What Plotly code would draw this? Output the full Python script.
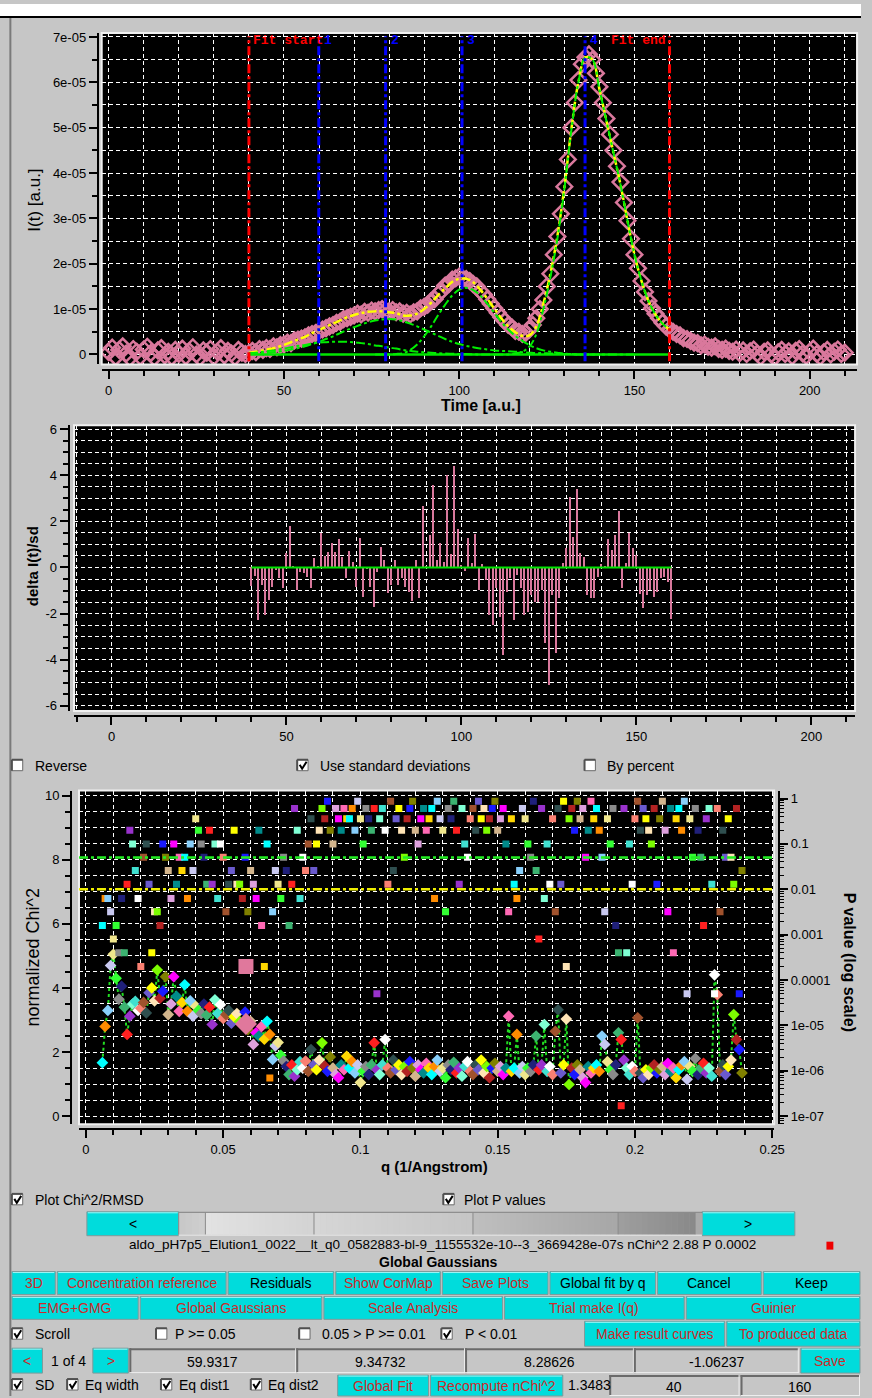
import math
import plotly.graph_objects as go

W, H = 872, 1398
BG = '#c6c6c6'
CYAN = '#00dcdc'
RED_TXT = '#cc2a2a'
PINK = '#d9789c'
SEL = '#e0789c'
FONT = 'Liberation Sans, Arial, DejaVu Sans, sans-serif'
MONO = 'Liberation Mono, DejaVu Sans Mono, monospace'
GRID_DASH = '4px,3px'

# ---------------- data ----------------
# elution profile I(t), units of 1e-5, frames 0..210
intensity_e5 = [
    0.05, 0.15, -0.06, 0.10, 0.18, 0.02, -0.08, 0.12, 0.06, -0.05,
    0.11, 0.17, 0.03, -0.07, 0.09, 0.14, -0.02, 0.06, -0.06, 0.10,
    0.01, 0.13, -0.04, 0.07, 0.16, 0.00, -0.07, 0.09, 0.04, 0.12,
    -0.05, 0.06, 0.14, -0.02, 0.08, 0.02, -0.06, 0.10, 0.04, 0.01,
    0.03, 0.08, 0.05, 0.12, 0.10, 0.14, 0.12, 0.18, 0.16, 0.21,
    0.22, 0.26, 0.25, 0.31, 0.33, 0.35, 0.38, 0.42, 0.45, 0.47,
    0.52, 0.55, 0.58, 0.62, 0.65, 0.70, 0.72, 0.78, 0.80, 0.83,
    0.86, 0.90, 0.88, 0.94, 0.92, 0.97, 0.95, 0.98, 1.00, 0.97,
    0.95, 0.98, 0.93, 0.95, 0.90, 0.92, 0.88, 0.93, 0.95, 1.02,
    1.05, 1.10, 1.18, 1.22, 1.33, 1.40, 1.52, 1.55, 1.65, 1.68,
    1.72, 1.68, 1.66, 1.62, 1.55, 1.50, 1.40, 1.32, 1.22, 1.12,
    1.02, 0.92, 0.82, 0.74, 0.65, 0.60, 0.52, 0.50,
    0.45, 0.48, 0.55, 0.65, 0.80, 1.00, 1.20, 1.50, 1.78, 2.20,
    2.60, 3.10, 3.70, 4.30, 5.00, 5.55, 6.05, 6.40, 6.55, 6.62,
    6.50, 6.20, 5.90, 5.55, 5.20, 4.85, 4.50, 4.15, 3.80, 3.35,
    2.95, 2.55, 2.20, 1.90, 1.62, 1.38, 1.18, 1.02, 0.90, 0.80,
    0.70, 0.62, 0.55,
    0.50, 0.45, 0.42, 0.36, 0.34, 0.30, 0.26, 0.25, 0.20, 0.22,
    0.17, 0.15, 0.18, 0.12, 0.10, 0.13, 0.08, 0.06, 0.11, 0.03,
    0.09, 0.01, 0.07, 0.11, 0.02, -0.05, 0.06, 0.09, 0.00, -0.06,
    0.05, 0.10, 0.01, 0.07, -0.04, 0.08, 0.12, 0.02, -0.03, 0.06,
    0.13, 0.01, -0.05, 0.05, 0.10, 0.00, 0.06, 0.11, 0.01, 0.04,
]
fit_range = [40, 160]
peak_centers = [59.93, 79.0, 100.8, 135.9]
peak_names = ['1', '2', '3', '4']

g1_frames = list(range(40, 112, 2))
g1_e5 = [0.03, 0.04, 0.06, 0.08, 0.10, 0.13, 0.16, 0.19, 0.21, 0.24,
         0.26, 0.27, 0.28, 0.28, 0.28, 0.27, 0.25, 0.23, 0.20, 0.18,
         0.15, 0.13, 0.10, 0.08, 0.06, 0.05, 0.04, 0.03, 0.02, 0.015,
         0.01, 0.01, 0.005, 0.0, 0.0, 0.0]
g2_frames = list(range(40, 142, 2))
g2_e5 = [0.01, 0.02, 0.03, 0.04, 0.06, 0.08, 0.11, 0.14, 0.18, 0.23,
         0.28, 0.34, 0.40, 0.47, 0.54, 0.60, 0.66, 0.71, 0.75, 0.77,
         0.78, 0.77, 0.73, 0.68, 0.62, 0.55, 0.48, 0.41, 0.34, 0.28,
         0.23, 0.19, 0.16, 0.13, 0.11, 0.09, 0.08, 0.07, 0.06, 0.05,
         0.04, 0.03, 0.03, 0.02, 0.02, 0.01, 0.01, 0.0, 0.0, 0.0, 0.0]
g3_frames = list(range(76, 152, 2))
g3_e5 = [0.0, 0.0, 0.0, 0.01, 0.03, 0.10, 0.22, 0.40, 0.62, 0.87,
         1.10, 1.30, 1.43, 1.47, 1.42, 1.30, 1.12, 0.92, 0.72, 0.55,
         0.41, 0.30, 0.21, 0.14, 0.09, 0.06, 0.04, 0.02, 0.01, 0.0,
         0.0, 0.0, 0.0, 0.0, 0.0, 0.0, 0.0, 0.0]
g4_frames = list(range(110, 162, 2))
g4_e5 = [0.0, 0.0, 0.0, 0.02, 0.06, 0.17, 0.45, 1.0, 1.7, 2.55,
         3.65, 4.95, 6.0, 6.55, 6.5, 5.85, 5.15, 4.45, 3.75, 2.95,
         2.2, 1.62, 1.18, 0.88, 0.68, 0.55]
fit_frames = list(range(40, 162, 2))
fit_total_e5 = [0.04, 0.06, 0.09, 0.12, 0.16, 0.21, 0.27, 0.33, 0.39, 0.47,
                0.54, 0.61, 0.68, 0.75, 0.82, 0.87, 0.91, 0.94, 0.95, 0.95,
                0.93, 0.91, 0.86, 0.86, 0.90, 1.00, 1.14, 1.31, 1.46, 1.60,
                1.67, 1.67, 1.59, 1.43, 1.23, 1.01, 0.80, 0.62, 0.49, 0.41,
                0.42, 0.62, 1.12, 1.78, 2.61, 3.68, 4.97, 6.0, 6.55, 6.5,
                5.85, 5.15, 4.45, 3.75, 2.95, 2.2, 1.62, 1.18, 0.88, 0.68,
                0.55]

# residuals delta I(t)/sd, frames 40..160
residuals = [
    -0.8, -0.36, -2.3, -0.77, -2.07, -1.42, -0.84, -0.1, -0.48, -0.91,
    0.6, 1.8, 0.05, -1.0, -0.2, -0.26, -0.4, -0.9, 0.42, 0.05,
    1.48, 0.5, 0.68, 1.04, 0.68, 1.23, 0.46, -0.48, 0.72, 0.25,
    -0.84, 1.29, -1.3, -0.05, -0.84, -1.7, -0.2, 0.87, 0.32, -1.13,
    -0.77, 0.3, -0.77, -0.48, -0.84, -1.06, -1.46, 0.32, -1.35, 2.67,
    0.05, 1.4, 3.58, 0.3, 1.07, 0.25, 4.0, 0.56, 4.38, 1.65,
    0.1, -0.16, 1.29, 0.17, 1.43, -1.0, 0.14, -0.55, -2.07, -2.5,
    -0.9, -2.15, -3.8, -1.06, -0.48, -2.3, -0.33, -0.91, -2.07, -1.93,
    -1.2, -1.5, -1.5, -1.0, -3.3, -5.1, -1.2, -3.7, -1.35, 0.17,
    0.83, 3.07, 1.33, 3.4, 0.6, 0.46, -1.2, -1.35, -1.32, -0.4,
    0.13, 0.05, 1.23, 0.75, 1.4, 2.42, -0.9, 0.17, 1.48, 0.83,
    0.54, -1.17, -1.78, -1.2, -1.0, -1.28, -1.06, -0.48, -0.4, -0.65,
    -2.25,
]

# normalized chi^2 and P value per q point (q = 0.006 .. 0.239)
chi2 = [
    1.67, 2.8, 3.3, 4.7, 5.05, 4.3, 3.65, 4.05, 3.4, 2.55,
    3.12, 3.5, 3.58, 3.3, 3.37, 3.55, 3.22, 3.85, 4.0, 3.6,
    4.56, 3.68, 3.9, 4.35, 3.17, 3.5, 4.35, 3.74, 3.27, 3.55,
    4.1, 3.27, 3.6, 3.12, 3.43, 3.3, 3.2, 3.5, 3.15, 3.4,
    2.86, 3.63, 3.2, 3.48, 3.05, 3.17, 3.3, 2.9, 3.1, 3.2,
    2.95, 2.86, 3.25, 2.7, 2.96, 2.24, 2.6, 2.5, 2.8, 2.4,
    2.96, 2.55, 1.77, 2.19, 2.3, 1.9, 1.72, 1.55, 1.3, 1.6,
    1.25, 1.45, 1.7, 1.5, 1.72, 1.4, 2.08, 1.6, 1.45, 1.75,
    2.29, 1.56, 1.4, 1.85, 1.5, 1.3, 1.2, 1.6, 1.45, 1.87,
    1.5, 1.7, 1.35, 1.6, 1.05, 1.4, 1.55, 1.3, 1.6, 2.29,
    1.45, 1.3, 1.6, 2.39, 1.5, 1.35, 1.75, 1.45, 1.6, 1.3,
    1.55, 1.4, 1.7, 1.5, 1.25, 1.6, 1.45, 1.35, 1.65, 1.5,
    1.3, 1.55, 1.75, 1.4, 1.5, 1.2, 1.6, 1.45, 1.68, 1.35,
    1.5, 1.25, 1.55, 1.7, 1.4, 1.3, 1.6, 1.45, 1.75, 1.35,
    1.55, 1.2, 1.5, 1.65, 1.4, 1.55, 1.3, 1.5, 3.12, 1.4,
    1.5, 2.55, 1.35, 1.55, 1.3, 1.5, 1.4, 1.6, 2.5, 1.45,
    1.6, 2.86, 1.4, 1.55, 1.3, 2.65, 3.32, 1.35, 1.6, 3.03,
    0.99, 1.5, 1.3, 1.6, 1.45, 1.2, 1.05, 1.55, 1.35, 1.5,
    1.6, 1.4, 2.5, 2.24, 1.7, 1.45, 1.3, 1.6, 2.6, 2.39,
    1.75, 1.5, 1.3, 1.55, 1.4, 3.07, 1.35, 1.2, 1.45, 1.3,
    1.5, 1.6, 1.35, 1.45, 1.55, 1.3, 1.65, 1.4, 1.5, 1.2,
    1.45, 1.6, 1.7, 1.15, 1.55, 1.4, 1.8, 1.3, 1.5, 1.65,
    1.35, 1.5, 1.25, 4.41, 3.79, 1.4, 1.6, 1.3, 1.55, 1.75,
    3.17, 2.39, 2.08, 1.35,
]
pvalue = [
    .0016, .0063, .0063, .0032, .0008, .0016, .0004, .0063, .0004, .013,
    .2, .1, .026, .0063, .0002, .051, .1, .013, .0004, .0032,
    .0032, .0016, .1, .051, .026, .0063, .1, .013, .051, .026,
    .051, .0063, .1, .026, .36, .2, .1, .051, .013, .2,
    .013, .1, .0063, .1, .051, .0032, .013, .026, .2, .013,
    .013, .0063, .051, .0032, .026, .013, .0063, .2, .0016, .0002,
    .1, 7e-7, .0032, .026, .013, .0063, .051, .026, .0016, .013,
    .6, .2, .0063, .051, .026, .1, .36, .026, .1, .2,
    .6, .36, .87, .2, .1, .6, .36, .2, .6, .36,
    .36, .6, .2, .87, .36, .1, .6, .36, .2, .6,
    .00005, .36, .6, .2, .013, .87, .026, .36, .6, .2,
    .051, .36, .6, .87, .2, .1, .36, .6, .2, .36,
    .6, .0063, .87, .36, .2, .0032, .6, .36, .87, .2,
    .013, .6, .1, .051, .36, .6, .2, .87, .36, .6,
    .2, .36, .6, .87, .2, .36, .6, .1, .0032, .36,
    .013, .0063, .026, .6, .36, .1, .051, .87, .026, .0008,
    .6, .0063, .1, .013, .36, .0032, .6, .013, .87, .0002,
    .36, .6, .2, .87, .36, .6, .051, .2, .87, .36,
    .6, .2, .051, .0032, .36, .1, .6, .0016, .0004, 1.7e-7,
    .6, .0004, .1, .013, .36, .87, .2, .6, .36, .2,
    .1, .6, .013, .36, .87, .2, .0032, .6, .0004, .36,
    .6, .2, .87, .00005, .36, .051, .6, .2, .051, .0016,
    .36, .6, .013, .00005, .6, .0032, .2, .051, .36, .051,
    .013, .6, .00005, .026,
]
p_levels = [0.05, 0.01]
selected_q = [0.0583]
selected_chi2 = [2.88]
selected_p = [0.0002]

y_ticktext_top = ['0', '1e-05', '2e-05', '3e-05', '4e-05', '5e-05', '6e-05', '7e-05']
res_tickvals = [6, 4, 2, 0, -2, -4, -6]
res_ticktext = ['6', '4', '2', '0', '-2', '-4', '-6']
p_tickvals = [1, 0.1, 0.01, 0.001, 0.0001, 1e-5, 1e-6, 1e-7]
p_ticktext = ['1', '0.1', '0.01', '0.001', '0.0001', '1e-05', '1e-06', '1e-07']
P_LOG_RANGE = [-7.175, 0.175]

# ---------------- figure ----------------
palette = ['#00ffff', '#ffffff', '#ff00ff', '#ff2020', '#1a1aff', '#33ff33', '#ffff00',
           '#ff8c00', '#fa8072', '#008b8b', '#9932cc', '#808000', '#8a8a8a', '#ffe4b5',
           '#87cefa', '#a0522d', '#ff69b4', '#7fffd4', '#d2b48c', '#20207a', '#7cfc00',
           '#c8c8f0', '#2f4f4f', '#ffd700', '#40e0d0', '#dda0dd', '#3cb371', '#b22222',
           '#f0e68c', '#6a5acd']
q_values = [round(0.006 + 0.001 * i, 4) for i in range(len(chi2))]
pt_colors = [palette[(7 * i) % len(palette)] for i in range(len(chi2))]

e5 = 1e-5
fig = go.Figure()

# top: elution profile
fig.add_trace(go.Scatter(
    x=list(range(len(intensity_e5))), y=[v * e5 for v in intensity_e5],
    mode='markers', marker=dict(symbol='diamond-open', size=12, color=PINK, line=dict(width=2.5, color=PINK)),
    xaxis='x', yaxis='y'))
fig.add_trace(go.Scatter(x=fit_range, y=[0, 0], mode='lines',
                         line=dict(color='#00e600', width=2.5), xaxis='x', yaxis='y'))
fig.add_trace(go.Scatter(x=fit_frames, y=[v * e5 for v in fit_total_e5], mode='lines',
                         line=dict(color='#ffff00', width=2.5, dash='dashdot', shape='spline'),
                         xaxis='x', yaxis='y'))
for fr, g in [(g1_frames, g1_e5), (g2_frames, g2_e5), (g3_frames, g3_e5), (g4_frames, g4_e5)]:
    fig.add_trace(go.Scatter(x=fr, y=[v * e5 for v in g], mode='lines',
                             line=dict(color='#00ee00', width=2, dash='dashdot', shape='spline'),
                             xaxis='x', yaxis='y'))

# middle: residuals
fig.add_trace(go.Bar(x=list(range(fit_range[0], fit_range[0] + len(residuals))), y=residuals,
                     width=0.6, marker=dict(color=PINK, line=dict(width=0)),
                     xaxis='x2', yaxis='y2'))
fig.add_trace(go.Scatter(x=fit_range, y=[0, 0], mode='lines',
                         line=dict(color='#00e600', width=2), xaxis='x2', yaxis='y2'))

# bottom: chi2 and P values
fig.add_trace(go.Scatter(x=q_values, y=chi2, mode='lines',
                         line=dict(color='#22dd22', width=2, dash='dot'), xaxis='x3', yaxis='y3'))
fig.add_trace(go.Scatter(x=q_values, y=chi2, mode='markers',
                         marker=dict(symbol='diamond', size=9, color=pt_colors, line=dict(width=0)),
                         xaxis='x3', yaxis='y3'))
fig.add_trace(go.Scatter(x=selected_q, y=selected_chi2, mode='markers',
                         marker=dict(symbol='diamond', size=17, color=SEL, line=dict(width=0)),
                         xaxis='x3', yaxis='y3'))
fig.add_trace(go.Scatter(x=q_values, y=pvalue, mode='markers',
                         marker=dict(symbol='square', size=7, color=pt_colors, line=dict(width=0)),
                         xaxis='x3', yaxis='y4'))
fig.add_trace(go.Scatter(x=selected_q, y=selected_p, mode='markers',
                         marker=dict(symbol='square', size=15, color=SEL, line=dict(width=0)),
                         xaxis='x3', yaxis='y4'))


def px(x):
    return x / W


def py(y):
    return 1 - y / H


tickfont = dict(family=FONT, size=13, color='black')


def minor_cfg(dt):
    return dict(tickmode='linear', tick0=0, dtick=dt, ticks='outside', ticklen=5, tickwidth=1.5,
                tickcolor='black', showgrid=True, gridcolor='white', griddash=GRID_DASH, gridwidth=1)


def xax(x0, x1, y_line, rng, dt, mdt):
    return dict(domain=[px(x0), px(x1)], range=rng, anchor='free', position=py(y_line),
                showline=True, linecolor='black', linewidth=2, ticks='outside', ticklen=8,
                tickwidth=1.5, tickcolor='black', tickmode='linear', tick0=0, dtick=dt,
                showgrid=True, gridcolor='white', griddash=GRID_DASH, gridwidth=1,
                zeroline=False, tickfont=tickfont, minor=minor_cfg(mdt), fixedrange=True)


def yax(y0, y1, x_line, rng, tv, tt, mdt):
    return dict(domain=[py(y1), py(y0)], range=rng, anchor='free', position=px(x_line),
                showline=True, linecolor='black', linewidth=2, ticks='outside', ticklen=8,
                tickwidth=1.5, tickcolor='black', tickmode='array', tickvals=tv, ticktext=tt,
                showgrid=True, gridcolor='white', griddash=GRID_DASH, gridwidth=1,
                zeroline=False, tickfont=tickfont, minor=minor_cfg(mdt), fixedrange=True)


layout = dict(
    width=W, height=H, autosize=False, margin=dict(l=0, r=0, t=0, b=0, pad=0),
    paper_bgcolor=BG, plot_bgcolor='black', showlegend=False, bargap=0,
    xaxis=xax(103, 868, 368, [-2.0, 213.5], 50, 10),
    yaxis=yax(29, 362, 99, [-0.22e-5, 7.09e-5], [k * e5 for k in range(8)], y_ticktext_top, 0.5e-5),
    xaxis2=xax(75, 866, 715, [-10.7, 212.5], 50, 10),
    yaxis2=yax(423, 710, 69.5, [-6.22, 6.17], res_tickvals, res_ticktext, 0.5),
    xaxis3=xax(80, 784, 1130, [-0.00252, 0.2507], 0.05, 0.01),
    yaxis3=yax(790, 1125, 72, [-0.248, 10.155], [0, 2, 4, 6, 8, 10], ['0', '2', '4', '6', '8', '10'], 0.5),
    yaxis4=dict(domain=[py(1125), py(790)], type='log', range=P_LOG_RANGE, overlaying='y3',
                side='right', anchor='free', position=px(789), showline=True, linecolor='black',
                linewidth=2, ticks='outside', ticklen=8, tickwidth=1.5, tickcolor='black',
                tickmode='array', tickvals=p_tickvals, ticktext=p_ticktext, showgrid=False,
                zeroline=False, tickfont=tickfont, fixedrange=True,
                minor=dict(ticks='outside', ticklen=4, tickwidth=1, tickcolor='black', dtick='D1', showgrid=False)),
)
fig.update_layout(**layout)

shapes = []
annotations = []


def rect(x0, y0, x1, y1, fill, line_color=None, lw=0):
    shapes.append(dict(type='rect', xref='paper', yref='paper', x0=px(x0), x1=px(x1),
                       y0=py(y1), y1=py(y0), fillcolor=fill,
                       line=dict(color=line_color or fill, width=lw), layer='above'))


def hline(x0, x1, y, color, w):
    shapes.append(dict(type='line', xref='paper', yref='paper', x0=px(x0), x1=px(x1),
                       y0=py(y), y1=py(y), line=dict(color=color, width=w), layer='above'))


def vline(x, y0, y1, color, w):
    shapes.append(dict(type='line', xref='paper', yref='paper', x0=px(x), x1=px(x),
                       y0=py(y0), y1=py(y1), line=dict(color=color, width=w), layer='above'))


def text(x, y, s, size=14, color='black', anchor='left', bold=False, family=FONT, angle=0):
    annotations.append(dict(xref='paper', yref='paper', x=px(x), y=py(y),
                            text=('<b>%s</b>' % s if bold else s), showarrow=False,
                            xanchor=anchor, yanchor='middle', textangle=angle,
                            font=dict(size=size, color=color, family=family)))


def button(x0, y0, x1, y1, label, color):
    rect(x0, y0, x1, y1, CYAN, '#7f9a9a', 1)
    hline(x0 + 1, x1 - 1, y0 + 1, '#9ff5f5', 1)
    text((x0 + x1) / 2, (y0 + y1) / 2 + 0.5, label, color=color, anchor='center')


def checkbox(x, y, label, checked, tx):
    rect(x, y - 6, x + 11, y + 5, 'white', '#6a6a6a', 1)
    hline(x, x + 11, y - 6, '#505050', 2)
    vline(x, y - 6, y + 5, '#505050', 2)
    if checked:
        shapes.append(dict(type='path', xref='paper', yref='paper',
                           path='M %f,%f L %f,%f L %f,%f' % (px(x + 2.5), py(y - 1), px(x + 5), py(y + 3),
                                                          px(x + 9.5), py(y - 4)),
                           line=dict(color='black', width=2), layer='above'))
    text(tx, y, label)


def sunken(x0, y0, x1, y1, label):
    rect(x0, y0, x1, y1, BG, BG, 0)
    hline(x0, x1, y0 + 1, '#6a6a6a', 2)
    vline(x0 + 1, y0, y1, '#6a6a6a', 2)
    hline(x0, x1, y1 - 0.5, '#eeeeee', 1)
    vline(x1 - 0.5, y0, y1, '#eeeeee', 1)
    text((x0 + x1) / 2, (y0 + y1) / 2 + 1, label, anchor='center')


# window chrome
rect(0, 0, W, 12, 'white')
hline(0, W, 13, 'black', 2)
vline(10.5, 14, H, '#7a7a7a', 2)

# plot frames
for xr, yr in [('x', 'y'), ('x2', 'y2'), ('x3', 'y3')]:
    shapes.append(dict(type='rect', xref=xr + ' domain', yref=yr + ' domain', x0=0, x1=1, y0=0, y1=1,
                       line=dict(color='#f0f0f0', width=2), fillcolor='rgba(0,0,0,0)', layer='above'))

# fit range / peak markers
for xv in fit_range:
    shapes.append(dict(type='line', xref='x', yref='y domain', x0=xv, x1=xv, y0=0.01, y1=0.99,
                       line=dict(color='#ff0000', width=3, dash='dashdot'), layer='above'))
for xv in peak_centers:
    shapes.append(dict(type='line', xref='x', yref='y domain', x0=xv, x1=xv, y0=0.01, y1=0.99,
                       line=dict(color='#0000ff', width=3, dash='dashdot'), layer='above'))
annotations.append(dict(xref='x', yref='paper', x=fit_range[0], y=py(37), text='<b>Fit start</b>',
                        showarrow=False, xanchor='left', xshift=2, yanchor='middle',
                        font=dict(family=MONO, size=13, color='#ff0000')))
annotations.append(dict(xref='x', yref='paper', x=fit_range[1], y=py(37), text='<b>Fit end</b>',
                        showarrow=False, xanchor='right', xshift=-2, yanchor='middle',
                        font=dict(family=MONO, size=13, color='#ff0000')))
for xv, nm in zip(peak_centers, peak_names):
    annotations.append(dict(xref='x', yref='paper', x=xv, y=py(37), text='<b>%s</b>' % nm,
                            showarrow=False, xanchor='left', xshift=3, yanchor='middle',
                            font=dict(family=MONO, size=13, color='#0000ff')))

# P threshold lines (positioned through the log axis range)
for pv, col in zip(p_levels, ['#22ee22', '#eeee00']):
    frac = (math.log10(pv) - P_LOG_RANGE[0]) / (P_LOG_RANGE[1] - P_LOG_RANGE[0])
    shapes.append(dict(type='line', xref='x3 domain', yref='y3 domain', x0=0, x1=1,
                       y0=frac, y1=frac,
                       line=dict(color=col, width=2.5, dash='dashdot'), layer='above'))

# axis titles
text(35, 197, 'I(t) [a.u.]', size=17, angle=-90, anchor='center')
text(487, 403, 'Time [a.u.]', size=16, bold=True, anchor='center')
text(33, 565, 'delta I(t)/sd', size=15, bold=True, angle=-90, anchor='center')
text(33, 957, 'normalized Chi^2', size=18, angle=-90, anchor='center')
text(860, 962, 'P value (log scale)', size=16, bold=True, angle=90, anchor='center')
text(440, 1168, 'q (1/Angstrom)', size=15, bold=True, anchor='center')

# option rows
checkbox(12, 765, 'Reverse', False, 33)
checkbox(301, 765, 'Use standard deviations', True, 322)
checkbox(592, 765, 'By percent', False, 613)
checkbox(12, 1201, 'Plot Chi^2/RMSD', True, 33)
checkbox(449, 1201, 'Plot P values', True, 468)

# slider
button(88, 1213, 181, 1237, '&lt;', 'black')
button(711, 1213, 805, 1237, '&gt;', 'black')
trough = [(181, 208, (200, 200, 200), (206, 206, 206)), (208, 318, (226, 226, 226), (212, 212, 212)),
          (318, 479, (214, 214, 214), (198, 198, 198)), (479, 626, (190, 190, 190), (168, 168, 168)),
          (626, 704, (158, 158, 158), (138, 138, 138)), (704, 711, (170, 170, 170), (170, 170, 170))]
for a, b, c0, c1 in trough:
    n = max(1, int((b - a) / 6))
    for k in range(n):
        t = k / max(1, n - 1)
        c = tuple(int(c0[j] + (c1[j] - c0[j]) * t) for j in range(3))
        col = 'rgb(%d,%d,%d)' % c
        rect(a + (b - a) * k / n, 1214, a + (b - a) * (k + 1) / n + 0.5, 1236, col)
    vline(a, 1214, 1236, '#8a8a8a', 1)
hline(181, 711, 1213.5, '#808080', 1)
hline(181, 711, 1236.5, '#e8e8e8', 1)

text(448, 1246, 'aldo_pH7p5_Elution1_0022__lt_q0_0582883-bl-9_1155532e-10--3_3669428e-07s nChi^2 2.88 P 0.0002',
     size=13.5, anchor='center')
rect(837, 1243, 844, 1251, '#ee0000')
text(444, 1263, 'Global Gaussians', size=14, bold=True, anchor='center')

# button rows
for lbl, x0, x1, col in [('3D', 12, 56, RED_TXT), ('Concentration reference', 58, 229, RED_TXT),
                         ('Residuals', 231, 338, 'black'), ('Show CorMap', 340, 446, RED_TXT),
                         ('Save Plots', 448, 555, RED_TXT), ('Global fit by q', 557, 664, 'black'),
                         ('Cancel', 666, 771, 'black'), ('Keep', 773, 871, 'black')]:
    button(x0, 1273, x1, 1296, lbl, col)
for lbl, x0, x1 in [('EMG+GMG', 12, 140), ('Global Gaussians', 142, 326), ('Scale Analysis', 328, 509),
                    ('Trial make I(q)', 511, 693), ('Guinier', 695, 871)]:
    button(x0, 1298, x1, 1321, lbl, RED_TXT)

checkbox(12, 1336, 'Scroll', True, 33)
checkbox(158, 1336, 'P &gt;= 0.05', False, 175)
checkbox(303, 1336, '0.05 &gt; P &gt;= 0.01', False, 324)
checkbox(447, 1336, 'P &lt; 0.01', True, 469)
button(592, 1323, 734, 1348, 'Make result curves', RED_TXT)
button(736, 1323, 871, 1348, 'To produced data', RED_TXT)

button(12, 1350, 43, 1375, '&lt;', RED_TXT)
text(50, 1363, '1 of 4')
button(94, 1350, 130, 1375, '&gt;', RED_TXT)
for x0, x1, lbl in [(131, 300, '59.9317'), (300, 471, '9.34732'), (471, 642, '8.28626'), (642, 809, '-1.06237')]:
    sunken(x0, 1350, x1, 1375, lbl)
button(811, 1350, 871, 1375, 'Save', RED_TXT)

checkbox(12, 1387, 'SD', True, 33)
checkbox(68, 1387, 'Eq width', True, 84)
checkbox(163, 1387, 'Eq dist1', True, 179)
checkbox(254, 1387, 'Eq dist2', True, 269)
button(342, 1377, 434, 1398, 'Global Fit', RED_TXT)
button(436, 1377, 570, 1398, 'Recompute nChi^2', RED_TXT)
text(573, 1387, '1.3483')
sunken(617, 1377, 749, 1398, '40')
sunken(750, 1377, 871, 1398, '160')

fig.update_layout(shapes=shapes, annotations=annotations)
fig.write_html('out.html', config={'displayModeBar': False},
               post_script="document.body.style.margin='0px';document.body.style.padding='0px';document.body.style.overflow='hidden';")
